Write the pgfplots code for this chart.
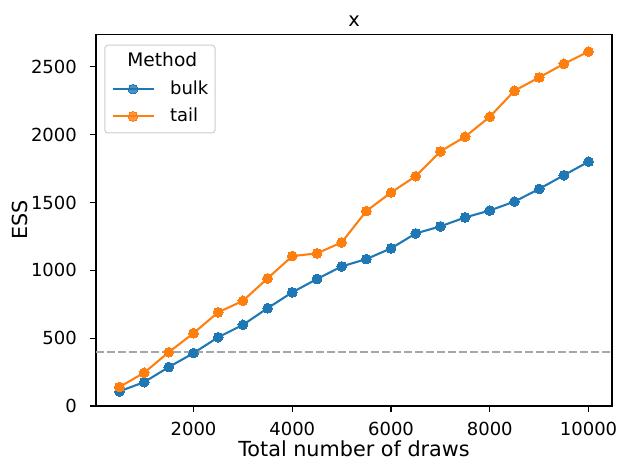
\documentclass[border=0pt]{standalone}
\usepackage{pgfplots}
\pgfplotsset{compat=1.18}
\usepackage{fontspec}
\setmainfont{DejaVu Sans}
\definecolor{tabblue}{HTML}{1F77B4}
\definecolor{taborange}{HTML}{FF7F0E}
\definecolor{refgray}{RGB}{166,166,166}
\definecolor{legframe}{RGB}{204,204,204}
\begin{document}
\begin{tikzpicture}
\useasboundingbox (-96bp,-64bp) rectangle (533bp,406bp);
\begin{axis}[
  at={(0,0)}, anchor=south west,
  scale only axis,
  width=516bp, height=371.7bp,
  xmin=25, xmax=10475,
  ymin=0, ymax=2740,
  xtick={2000,4000,6000,8000,10000},
  ytick={0,500,1000,1500,2000,2500},
  scaled x ticks=false, scaled y ticks=false,
  /pgf/number format/1000 sep={},
  /pgf/number format/assume math mode=true,
  tick align=outside,
  major tick length=6bp,
  tick style={line width=1.1bp, black},
  axis line style={line width=1.1bp},
  xtick pos=bottom, ytick pos=left,
  ticklabel style={font=\fontsize{18.06}{21}\selectfont},
  xticklabel style={anchor=north, inner sep=0pt, yshift=-10bp},
  yticklabel style={anchor=east, inner sep=0pt, xshift=-13bp},
  xlabel={Total number of draws},
  ylabel={ESS},
  every axis x label/.style={at={(axis description cs:0.5,0)}, anchor=base, yshift=-50bp, font=\fontsize{20.83}{24}\selectfont},
  every axis y label/.style={at={(axis description cs:0,0.5)}, rotate=90, anchor=base, yshift=68.7bp, font=\fontsize{20.83}{24}\selectfont},
  title={x},
  every axis title/.style={at={(axis description cs:0.5,1)}, anchor=base, yshift=7.6bp, font=\fontsize{19.5}{22}\selectfont},
  legend cell align=left,
  legend style={at={(axis description cs:0,1)}, anchor=north west, xshift=8.3bp, yshift=-10.4bp,
    draw=legframe, line width=1bp, rounded corners=3bp, fill=white, fill opacity=0.8, text opacity=1,
    inner xsep=6.7bp, inner ysep=7.6bp, row sep=9.3bp, column sep=0bp,
    nodes={inner sep=0pt, text height=14bp, text depth=4bp, font=\fontsize{18.06}{21}\selectfont}},
  legend image code/.code={
    \draw[#1, mark repeat=2, mark phase=2] plot coordinates {(0bp,0bp) (20.5bp,0bp) (41bp,0bp)};
    \node[anchor=west] at (41bp,0bp) {\hspace*{15.5bp}};
  },
]
\addlegendimage{empty legend}
\addlegendentry{\hspace*{-42.7bp}\fontsize{18.7}{21}\selectfont Method}
\addplot[refgray, line width=2.08bp, dash pattern=on 7.7bp off 3.3bp, forget plot] coordinates {(25,400) (10475,400)};
\addplot[tabblue, line width=2.08bp, mark=*, mark size=4.9bp, mark options={line width=0pt, fill=tabblue}] coordinates {
(500,108) (1000,176) (1500,287) (2000,390) (2500,507) (3000,598) (3500,721) (4000,838)
(4500,936) (5000,1029) (5500,1083) (6000,1162) (6500,1272) (7000,1324) (7500,1390)
(8000,1441) (8500,1507) (9000,1600) (9500,1701) (10000,1801)};
\addlegendentry{bulk}
\addplot[taborange, line width=2.08bp, mark=*, mark size=4.9bp, mark options={line width=0pt, fill=taborange}] coordinates {
(500,140) (1000,245) (1500,397) (2000,537) (2500,691) (3000,775) (3500,941) (4000,1105)
(4500,1125) (5000,1206) (5500,1437) (6000,1574) (6500,1694) (7000,1877) (7500,1985)
(8000,2132) (8500,2324) (9000,2422) (9500,2522) (10000,2613)};
\addlegendentry{tail}
\end{axis}
\end{tikzpicture}
\end{document}
